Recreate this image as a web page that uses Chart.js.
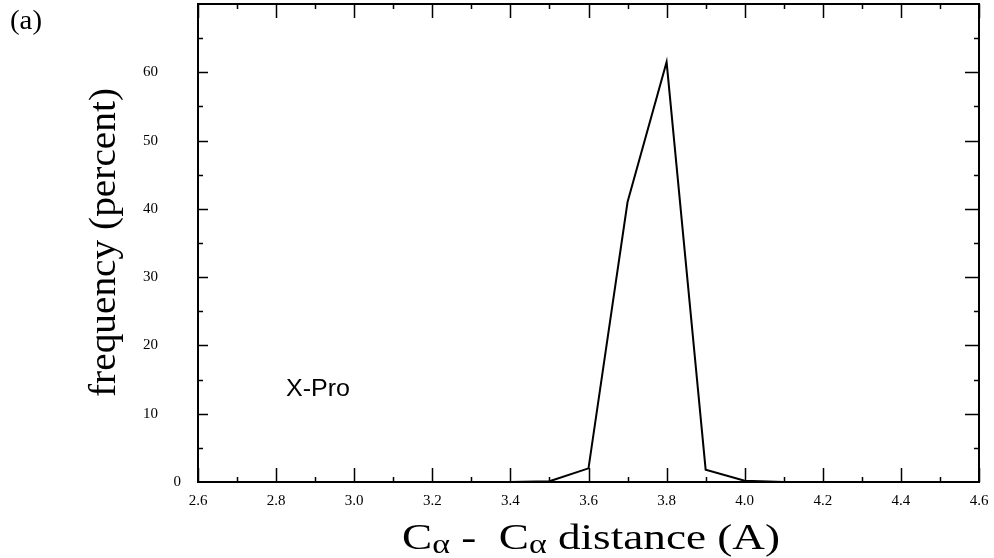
<!DOCTYPE html>
<html>
<head>
<meta charset="utf-8">
<script src="https://cdn.jsdelivr.net/npm/chart.js@4/dist/chart.umd.min.js"></script>
<style>
  html, body { margin: 0; padding: 0; background: #fff; }
  #wrap { width: 994px; height: 558px; position: relative; }
</style>
</head>
<body>
<div id="wrap"><canvas id="chart" width="994" height="558"></canvas></div>
<script>
/* ---------- DATA ---------- */
const distances = [2.6, 2.7, 2.8, 2.9, 3.0, 3.1, 3.2, 3.3, 3.4, 3.5, 3.6, 3.7, 3.8, 3.9, 4.0, 4.1, 4.2, 4.3, 4.4, 4.5, 4.6];
const frequency = [0, 0, 0, 0, 0, 0, 0, 0, 0, 0.1, 2.0, 41, 61.5, 1.8, 0.2, 0, 0, 0, 0, 0, 0];
const xTicks = [2.6, 2.8, 3.0, 3.2, 3.4, 3.6, 3.8, 4.0, 4.2, 4.4, 4.6];
const yTicks = [0, 10, 20, 30, 40, 50, 60];

const SERIF = '"Liberation Serif", "DejaVu Serif", serif';
const SANS  = '"Liberation Sans", Arial, sans-serif';

// draw text squeezed/stretched to a given width
function fitText(ctx, text, x, y, width) {
    const w = ctx.measureText(text).width;
    ctx.save();
    ctx.translate(x, y);
    ctx.scale(width / w, 1);
    ctx.fillText(text, 0, 0);
    ctx.restore();
}

/* ---------- FRAME / TICKS / LABELS PLUGIN ---------- */
const framePlugin = {
    id: 'frame',
    afterDatasetsDraw(chart) {
        const { ctx, chartArea: a, scales: { x, y } } = chart;
        ctx.save();
        ctx.strokeStyle = '#000';
        ctx.lineWidth = 2;
        ctx.strokeRect(a.left, a.top, a.right - a.left, a.bottom - a.top);

        // x ticks, inward, top and bottom
        ctx.lineWidth = 1.5;
        for (let i = 0; i <= 20; i++) {
            const v = 2.6 + i * 0.1;
            const px = Math.round(x.getPixelForValue(v)) + 0.5;
            const len = i % 2 === 0 ? 14 : 5;
            ctx.beginPath();
            ctx.moveTo(px, a.bottom); ctx.lineTo(px, a.bottom - len);
            ctx.moveTo(px, a.top); ctx.lineTo(px, a.top + len);
            ctx.stroke();
        }
        // y ticks, inward
        for (let v = 5; v < 70; v += 5) {
            const py = Math.round(y.getPixelForValue(v)) + 0.5;
            const major = v % 10 === 0;
            ctx.beginPath();
            ctx.moveTo(a.right, py); ctx.lineTo(a.right - (major ? 14 : 5), py);
            ctx.moveTo(a.left, py); ctx.lineTo(a.left + (major ? 10 : 5), py);
            ctx.stroke();
        }

        // tick labels
        ctx.fillStyle = '#000';
        ctx.font = '15px ' + SERIF;
        ctx.textAlign = 'center';
        ctx.textBaseline = 'middle';
        xTicks.forEach(v => ctx.fillText(v.toFixed(1), x.getPixelForValue(v), a.bottom + 19));
        ctx.textAlign = 'right';
        yTicks.forEach(v => ctx.fillText(String(v), v === 0 ? a.left - 17 : a.left - 40, y.getPixelForValue(v)));

        // y title
        ctx.textAlign = 'left';
        ctx.textBaseline = 'alphabetic';
        ctx.save();
        ctx.translate(115, 397);
        ctx.rotate(-Math.PI / 2);
        ctx.font = '38px ' + SERIF;
        fitText(ctx, 'frequency (percent)', 0, 0, 309);
        ctx.restore();

        // x title with subscript alpha, stretched to the reference width
        const parts = [['C', 0], ['\u03b1', 1], [' -  C', 0], ['\u03b1', 1], [' distance (A)', 0]];
        const big = '36px ' + SERIF, small = '27px ' + SERIF;
        let w = 0;
        parts.forEach(([t, s]) => { ctx.font = s ? small : big; w += ctx.measureText(t).width; });
        const k = 378 / w;
        ctx.save();
        ctx.translate(402, 0);
        ctx.scale(k, 1);
        let cx = 0;
        parts.forEach(([t, s]) => {
            ctx.font = s ? small : big;
            ctx.fillText(t, cx, s ? 553 : 549);
            cx += ctx.measureText(t).width;
        });
        ctx.restore();

        // annotations
        ctx.font = '24px ' + SANS;
        fitText(ctx, 'X-Pro', 286, 396, 64);
        ctx.font = '27px ' + SERIF;
        fitText(ctx, '(a)', 10, 29, 32);
        ctx.restore();
    }
};

/* ---------- CHART ---------- */
new Chart(document.getElementById('chart'), {
    type: 'line',
    data: {
        datasets: [{
            data: distances.map((d, i) => ({ x: d, y: frequency[i] })),
            borderColor: '#000',
            borderWidth: 2,
            pointRadius: 0,
            tension: 0,
            fill: false,
        }]
    },
    options: {
        responsive: false,
        animation: false,
        layout: { padding: { left: 198, right: 15, top: 4, bottom: 76 } },
        plugins: { legend: { display: false }, tooltip: { enabled: false } },
        scales: {
            x: { type: 'linear', min: 2.6, max: 4.6, display: false },
            y: { min: 0, max: 70, display: false }
        }
    },
    plugins: [framePlugin]
});
</script>
</body>
</html>
